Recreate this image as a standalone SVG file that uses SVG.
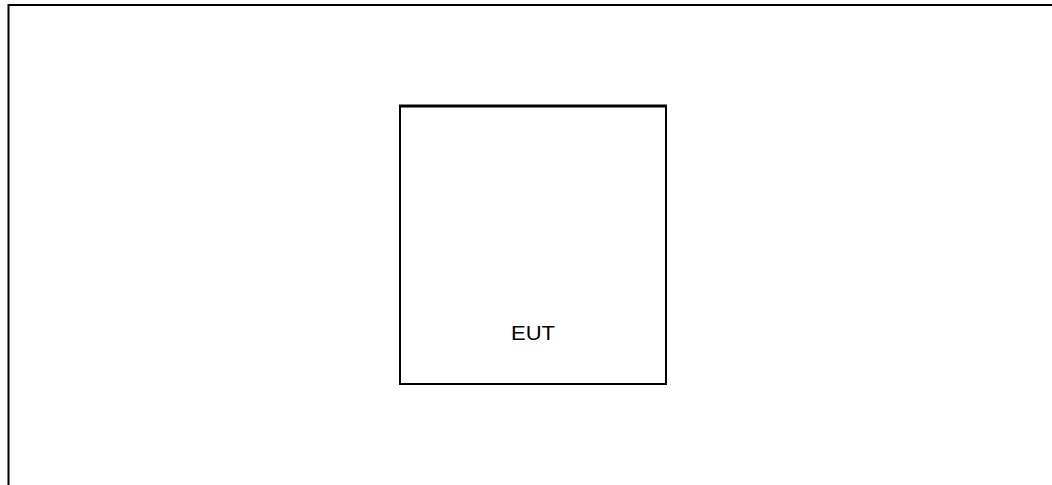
<svg xmlns="http://www.w3.org/2000/svg" width="1052" height="485" viewBox="0 0 1052 485">
<style>
.frame{fill:none;stroke:#000;stroke-width:2}
.box{fill:#fff;stroke:#000;stroke-width:2}
.lbl{font-family:"Liberation Sans",Arial,sans-serif;font-size:21px;fill:#000}
</style>
<rect width="1052" height="485" fill="#fff"/>
<g id="frame">
<polyline class="frame" points="8.5,485 8.5,5 1052,5"/>
</g>
<g id="eut">
<rect class="box" x="400" y="106" width="266" height="278"/>
<line x1="399" y1="106" x2="667" y2="106" stroke="#000" stroke-width="3"/>
<text class="lbl" x="533" y="339.5" text-anchor="middle" textLength="44" lengthAdjust="spacingAndGlyphs">EUT</text>
</g>
<g id="connectors"></g>
</svg>
